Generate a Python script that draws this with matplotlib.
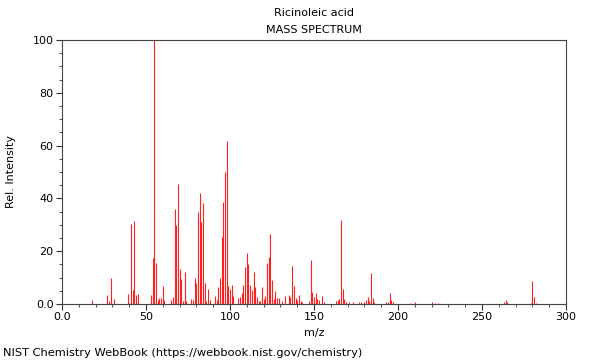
import matplotlib
matplotlib.use("Agg")
import matplotlib.pyplot as plt
from matplotlib.ticker import MultipleLocator

title = "Ricinoleic acid"
subtitle = "MASS SPECTRUM"
x_label = "m/z"
y_label = "Rel. Intensity"
footer = "NIST Chemistry WebBook (https://webbook.nist.gov/chemistry)"

mz = [18, 27, 28, 29, 31, 39, 40, 41, 42, 43, 44, 45,
      53, 54, 55, 56, 57, 58, 59, 60, 61, 65, 66, 67, 68, 69, 70, 71, 72, 73, 74,
      77, 78, 79, 80, 81, 82, 83, 84, 85, 86, 87, 88, 91, 92, 93, 94, 95, 96, 97, 98,
      99, 100, 101, 102, 105, 106, 107, 108, 109, 110, 111, 112, 113, 114, 115, 116,
      117, 118, 119, 120, 121, 122, 123, 124, 125, 126, 127, 128, 129, 131, 133,
      135, 136, 137, 138, 139, 140, 141, 142, 143, 147, 148, 149, 150, 151, 152, 153,
      155, 156, 163, 164, 165, 166, 167, 168, 169, 171, 173, 177, 178, 180, 181,
      182, 183, 184, 185, 186, 193, 194, 195, 196, 197, 207, 210, 220, 222, 224,
      263, 264, 265, 279, 280, 281, 282]
intensity = [1.5, 3.4, 1.0, 10.0, 1.8, 3.8, 0.5, 30.2, 5.3, 31.4, 3.3, 3.8,
             3.4, 17.4, 100.0, 15.5, 1.5, 2.4, 2.2, 6.8, 1.5, 1.5, 2.5, 35.9, 29.9, 45.4, 13.3, 9.5, 1.0, 12.0, 1.0,
             2.0, 1.5, 9.8, 8.0, 34.7, 41.9, 31.2, 38.4, 8.1, 1.0, 5.5, 1.7, 3.0, 1.5, 6.6, 9.7, 25.5, 38.8, 50.1, 61.7,
             6.8, 5.6, 7.2, 3.0, 2.1, 2.8, 4.3, 7.2, 14.1, 19.2, 15.0, 7.2, 5.3, 12.2, 6.6, 2.8,
             1.0, 1.0, 6.3, 2.0, 3.0, 15.4, 17.9, 26.4, 9.1, 2.0, 4.9, 2.1, 2.1, 1.0, 3.2,
             3.4, 2.8, 14.4, 6.8, 2.1, 1.5, 3.4, 1.0, 0.7, 1.0, 16.7, 4.7, 2.8, 4.0, 2.0, 1.5,
             3.0, 0.7, 1.0, 1.5, 2.0, 31.8, 5.5, 2.0, 0.8, 0.7, 0.7, 0.7, 0.7, 0.8, 1.5,
             2.8, 1.0, 11.6, 2.1, 0.9, 0.9, 0.9, 4.0, 1.5, 0.7, 0.5, 0.9, 0.9, 0.5, 0.5,
             0.8, 1.5, 0.7, 0.5, 8.7, 2.8, 0.5]

x_ticks = [0, 50, 100, 150, 200, 250, 300]
x_tick_labels = ["0.0", "50", "100", "150", "200", "250", "300"]
y_ticks = [0, 20, 40, 60, 80, 100]
y_tick_labels = ["0.0", "20", "40", "60", "80", "100"]

fig = plt.figure(figsize=(6, 3.6), dpi=100)
ax = fig.add_axes([62 / 600, 56 / 360, 504 / 600, 264 / 360])
ax.vlines(mz, 0, intensity, colors="#ff2020", linewidth=0.8)
ax.set_xlim(0, 300)
ax.set_ylim(0, 100)
ax.set_xticks(x_ticks)
ax.set_xticklabels(x_tick_labels)
ax.set_yticks(y_ticks)
ax.set_yticklabels(y_tick_labels)
ax.xaxis.set_minor_locator(MultipleLocator(10))
ax.yaxis.set_minor_locator(MultipleLocator(5))
ax.tick_params(which="major", length=4, width=0.8, labelsize=8, color="#333333", pad=2)
ax.tick_params(which="minor", length=2, width=0.6, color="#333333")
for s in ax.spines.values():
    s.set_color("#444444")
    s.set_linewidth(0.8)
ax.set_xlabel(x_label, fontsize=8, labelpad=4)
ax.set_ylabel(y_label, fontsize=8, labelpad=12)
fig.text(314 / 600, 1 - 13 / 360, title, ha="center", va="center", fontsize=8)
fig.text(314 / 600, 1 - 30 / 360, subtitle, ha="center", va="center", fontsize=8)
fig.text(3 / 600, 1 - 353 / 360, footer, ha="left", va="center", fontsize=8.2)
fig.savefig("out.png", dpi=100)
